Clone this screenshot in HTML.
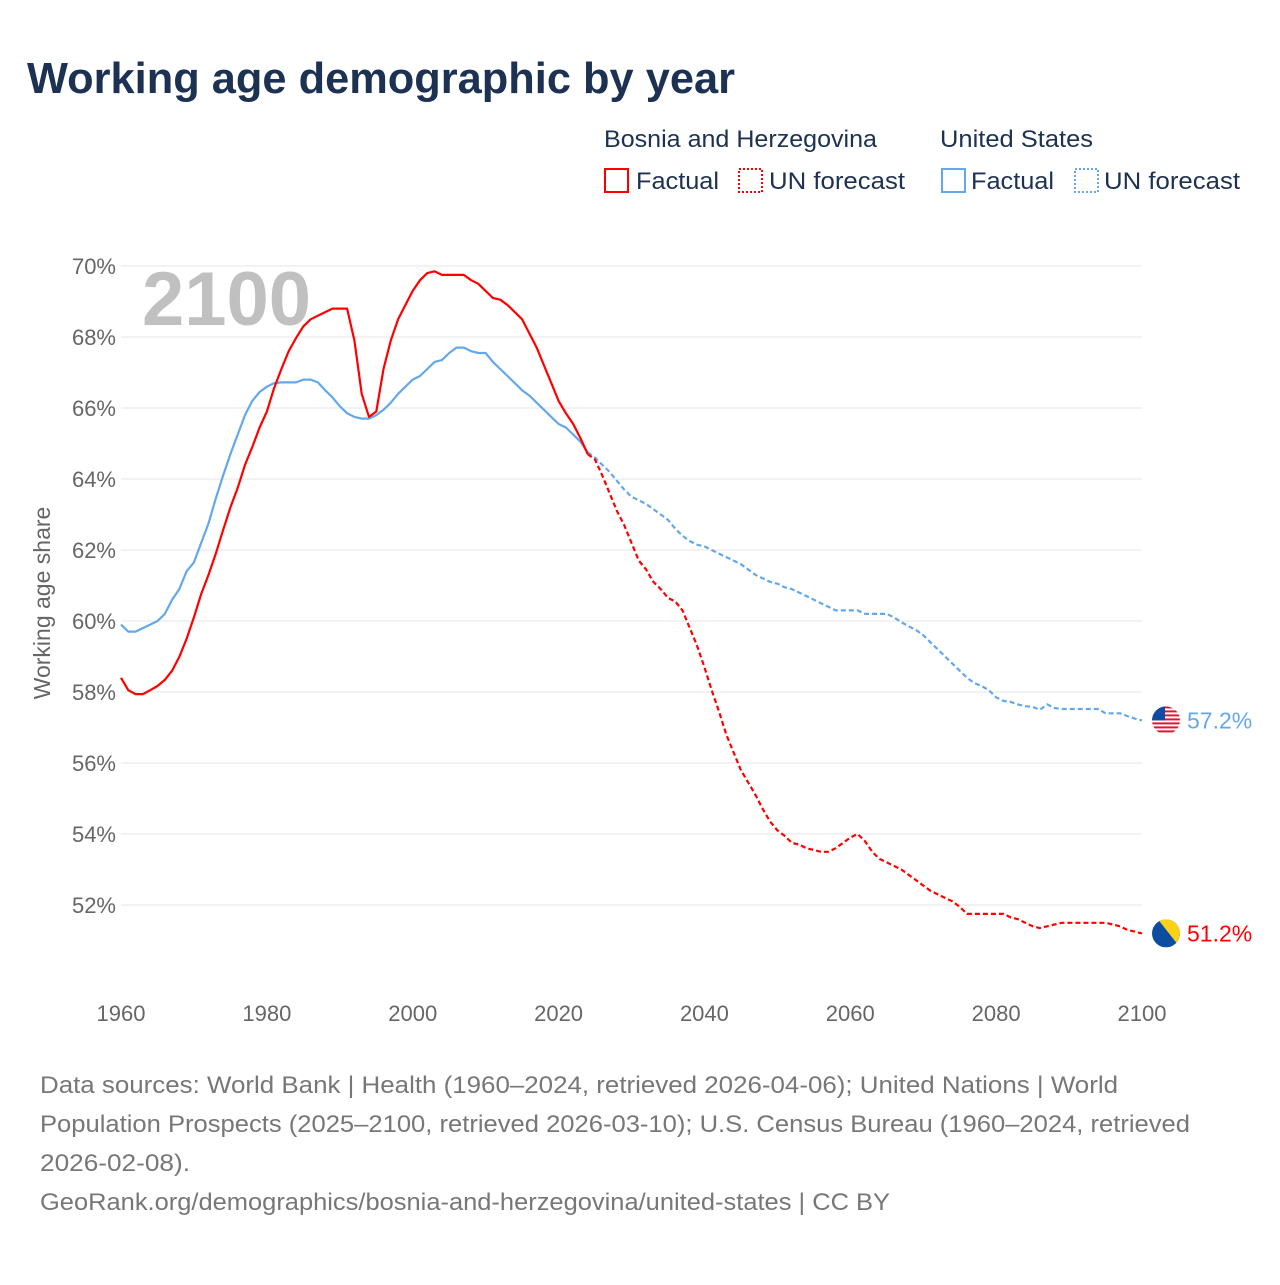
<!DOCTYPE html>
<html><head><meta charset="utf-8"><style>
body{margin:0;background:#fff;}
svg text{font-family:"Liberation Sans",sans-serif;}
</style></head><body>
<svg id="c" width="1280" height="1280" xmlns="http://www.w3.org/2000/svg">
<text x="27" y="93" font-size="44" font-weight="bold" fill="#1d3152" textLength="708" lengthAdjust="spacingAndGlyphs">Working age demographic by year</text>
<g font-size="24" fill="#1d3152">
<text x="604" y="147" textLength="273" lengthAdjust="spacingAndGlyphs">Bosnia and Herzegovina</text>
<text x="940" y="147" textLength="153" lengthAdjust="spacingAndGlyphs">United States</text>
<rect x="605" y="169" width="23" height="23" fill="none" stroke="#f00" stroke-width="2"/>
<text x="636" y="189" textLength="83" lengthAdjust="spacingAndGlyphs">Factual</text>
<rect x="739" y="169" width="23" height="23" fill="none" stroke="#f00" stroke-width="2" stroke-dasharray="2,2"/>
<text x="769" y="189" textLength="136" lengthAdjust="spacingAndGlyphs">UN forecast</text>
<rect x="942" y="169" width="23" height="23" fill="none" stroke="#64a8ea" stroke-width="2"/>
<text x="971" y="189" textLength="83" lengthAdjust="spacingAndGlyphs">Factual</text>
<rect x="1075" y="169" width="23" height="23" fill="none" stroke="#64a8ea" stroke-width="2" stroke-dasharray="2,2"/>
<text x="1104" y="189" textLength="136" lengthAdjust="spacingAndGlyphs">UN forecast</text>
</g>
<g id="grid"></g>
<text x="142" y="325" font-size="76" font-weight="bold" fill="#c0c0c0">2100</text>
<text transform="translate(50,603) rotate(-90)" text-anchor="middle" font-size="23" fill="#666">Working age share</text>
<g id="series"></g>
<g font-size="24" fill="#777" lengthAdjust="spacingAndGlyphs">
<text x="40" y="1093" textLength="1078" lengthAdjust="spacingAndGlyphs">Data sources: World Bank | Health (1960–2024, retrieved 2026-04-06); United Nations | World</text>
<text x="40" y="1132" textLength="1150" lengthAdjust="spacingAndGlyphs">Population Prospects (2025–2100, retrieved 2026-03-10); U.S. Census Bureau (1960–2024, retrieved</text>
<text x="40" y="1171" textLength="150" lengthAdjust="spacingAndGlyphs">2026-02-08).</text>
<text x="40" y="1210" textLength="850" lengthAdjust="spacingAndGlyphs">GeoRank.org/demographics/bosnia-and-herzegovina/united-states | CC BY</text>
</g>
</svg>
<script>
const yTicks=[52,54,56,58,60,62,64,66,68,70];
const xTicks=[1960,1980,2000,2020,2040,2060,2080,2100];
const bihFactual=[58.4,58.05,57.94,57.94,58.05,58.17,58.34,58.6,58.99,59.5,60.1,60.76,61.3,61.9,62.56,63.2,63.75,64.4,64.9,65.45,65.9,66.56,67.1,67.6,67.97,68.3,68.5,68.6,68.7,68.8,68.8,68.8,67.9,66.4,65.75,65.9,67.1,67.9,68.5,68.9,69.3,69.6,69.8,69.85,69.75,69.75,69.75,69.75,69.6,69.5,69.3,69.1,69.05,68.9,68.7,68.5,68.1,67.7,67.2,66.7,66.2,65.85,65.55,65.15,64.7];
const bihForecast=[64.55,64.1,63.6,63.1,62.7,62.2,61.7,61.45,61.1,60.9,60.65,60.55,60.3,59.8,59.3,58.7,58.05,57.45,56.8,56.3,55.8,55.45,55.1,54.7,54.35,54.1,53.95,53.75,53.7,53.6,53.55,53.5,53.5,53.6,53.75,53.9,54.0,53.8,53.5,53.3,53.2,53.1,53.0,52.85,52.7,52.55,52.4,52.3,52.2,52.1,51.95,51.75,51.75,51.75,51.75,51.75,51.75,51.65,51.6,51.5,51.4,51.35,51.4,51.45,51.5,51.5,51.5,51.5,51.5,51.5,51.5,51.45,51.4,51.3,51.25,51.2];
const usFactual=[59.9,59.7,59.7,59.8,59.9,60.0,60.2,60.6,60.9,61.4,61.65,62.2,62.75,63.45,64.1,64.7,65.25,65.8,66.2,66.45,66.6,66.7,66.72,66.72,66.72,66.8,66.8,66.72,66.5,66.3,66.05,65.85,65.75,65.7,65.7,65.8,65.95,66.15,66.4,66.6,66.8,66.9,67.1,67.3,67.35,67.55,67.7,67.7,67.6,67.55,67.55,67.3,67.1,66.9,66.7,66.5,66.35,66.15,65.95,65.75,65.55,65.45,65.25,65.05,64.75];
const usForecast=[64.6,64.4,64.2,63.95,63.7,63.5,63.4,63.3,63.15,63.0,62.85,62.6,62.4,62.25,62.15,62.1,62.0,61.9,61.8,61.7,61.6,61.45,61.3,61.2,61.1,61.05,60.95,60.9,60.8,60.7,60.6,60.5,60.4,60.3,60.3,60.3,60.3,60.2,60.2,60.2,60.2,60.1,59.97,59.85,59.75,59.6,59.4,59.2,59.0,58.8,58.6,58.4,58.25,58.17,58.05,57.85,57.75,57.72,57.65,57.6,57.58,57.5,57.65,57.55,57.52,57.52,57.52,57.52,57.52,57.52,57.4,57.4,57.4,57.32,57.25,57.2];
const NS='http://www.w3.org/2000/svg';
const X=y=>121+(y-1960)*(1021/140);
const Y=v=>266+(70-v)*35.5;
function mk(t,a,p){const e=document.createElementNS(NS,t);for(const k in a)e.setAttribute(k,a[k]);p.appendChild(e);return e;}
const grid=document.getElementById('grid');
yTicks.forEach(v=>{
 const l=mk('line',{x1:121,x2:1142,y1:Y(v),y2:Y(v),stroke:'#e6e6e6','stroke-width':1},grid);
 
 
 const t=mk('text',{x:116,y:Y(v)+8,'text-anchor':'end','font-size':22,fill:'#666'},grid);
 t.textContent=v+'%';
 
 
});
xTicks.forEach(y=>{
 const t=mk('text',{x:X(y),y:1021,'text-anchor':'middle','font-size':22,fill:'#666'},grid);
 t.textContent=y;
 
 
});
const s=document.getElementById('series');
function line(arr,start,color,dash,name){
 const pts=arr.map((v,i)=>X(start+i).toFixed(1)+','+Y(v).toFixed(1)).join(' ');
 const p=mk('polyline',{points:pts,fill:'none',stroke:color,'stroke-width':2.2,'stroke-linejoin':'round'},s);
 if(dash)p.setAttribute('stroke-dasharray',dash);
 
 
}
line(usFactual,1960,'#64a8ea',null,'us-factual-line');
line([usFactual[usFactual.length-1]].concat(usForecast),2024,'#64a8ea','5,3','us-forecast-line');
line(bihFactual,1960,'#f00',null,'bih-factual-line');
line([bihFactual[bihFactual.length-1]].concat(bihForecast),2024,'#f00','5,3','bih-forecast-line');
const usEnd=usForecast[usForecast.length-1], bEnd=bihForecast[bihForecast.length-1];
const uy=Y(usEnd), by=Y(bEnd);
const defs=mk('defs',{},s);
const c1=mk('clipPath',{id:'cu'},defs);mk('circle',{cx:1166,cy:uy,r:14},c1);
const c2=mk('clipPath',{id:'cb'},defs);mk('circle',{cx:1166,cy:by,r:14},c2);
const gu=mk('g',{'clip-path':'url(#cu)'},s);


mk('rect',{x:1152,y:uy-14,width:28,height:28,fill:'#fff'},gu);
for(let i=0;i<7;i++)mk('rect',{x:1152,y:uy-14+i*4,width:28,height:2,fill:'#e0162b'},gu);
mk('rect',{x:1152,y:uy-14,width:13,height:14,fill:'#0c4da2'},gu);
const gb=mk('g',{'clip-path':'url(#cb)'},s);


mk('rect',{x:1152,y:by-14,width:28,height:28,fill:'#0c4da2'},gb);
mk('polygon',{points:`1158,${by-14} 1180,${by-14} 1180,${by+14}`,fill:'#fcd116'},gb);
const tu=mk('text',{x:1187,y:uy+8,'font-size':23,fill:'#64a8ea'},s);
tu.textContent=usEnd.toFixed(1)+'%';


const tb=mk('text',{x:1187,y:by+8,'font-size':23,fill:'#f00'},s);
tb.textContent=bEnd.toFixed(1)+'%';


</script>
</body></html>
